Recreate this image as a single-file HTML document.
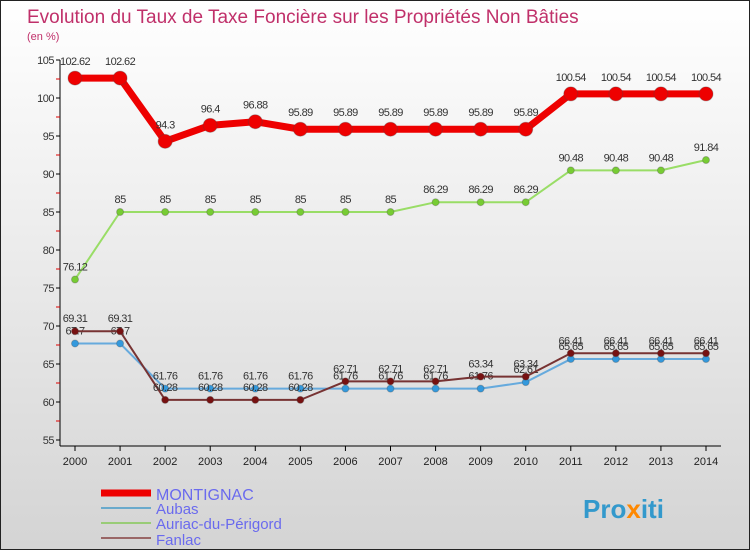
<!DOCTYPE html>
<html><head><meta charset="utf-8"><style>
html,body{margin:0;padding:0}
body{width:750px;height:550px;overflow:hidden;font-family:"Liberation Sans",sans-serif}
#wrap{position:relative;width:748px;height:548px;border:1px solid #222;background:linear-gradient(#ffffff,#d4d4d4)}
</style></head><body>
<div id="wrap">
<svg id="chart" width="748" height="548" xmlns="http://www.w3.org/2000/svg">
<text x="26" y="22" font-size="19" fill="#c0306a">Evolution du Taux de Taxe Foncière sur les Propriétés Non Bâties</text>
<text x="26" y="39" font-size="11" fill="#c0306a">(en %)</text>
<g id="axes"></g><g id="series"></g>
<g>
<line x1="100" y1="492" x2="150" y2="492" stroke="#ee0000" stroke-width="7"/>
<text x="155" y="499" font-size="16" fill="#6a6aee">MONTIGNAC</text>
<line x1="100" y1="507" x2="150" y2="507" stroke="#6aaacc" stroke-width="2"/>
<text x="155" y="513" font-size="15" fill="#6a6aee">Aubas</text>
<line x1="100" y1="522" x2="150" y2="522" stroke="#99cc77" stroke-width="2"/>
<text x="155" y="528" font-size="15" fill="#6a6aee">Auriac-du-Périgord</text>
<line x1="100" y1="537" x2="150" y2="537" stroke="#996666" stroke-width="2"/>
<text x="155" y="544" font-size="15" fill="#6a6aee">Fanlac</text>
</g>
<text x="582" y="517" font-size="26" font-weight="bold" fill="#3399cc">Pro<tspan fill="#ff8800">x</tspan>iti</text>
</svg>
</div>
<script>
const years=[2000,2001,2002,2003,2004,2005,2006,2007,2008,2009,2010,2011,2012,2013,2014];
const montignac=[102.62,102.62,94.3,96.4,96.88,95.89,95.89,95.89,95.89,95.89,95.89,100.54,100.54,100.54,100.54];
const aubas=[67.7,67.7,61.76,61.76,61.76,61.76,61.76,61.76,61.76,61.76,62.61,65.65,65.65,65.65,65.65];
const auriac=[76.12,85,85,85,85,85,85,85,86.29,86.29,86.29,90.48,90.48,90.48,91.84];
const fanlac=[69.31,69.31,60.28,60.28,60.28,60.28,62.71,62.71,62.71,63.34,63.34,66.41,66.41,66.41,66.41];
const yTicks=[55,60,65,70,75,80,85,90,95,100,105];
const NS="http://www.w3.org/2000/svg";
const X=i=>74+i*(705-74)/(years.length-1);
const Y=v=>439-(v-55)*(439-59)/50;
function mk(tag,attrs,parent){const e=document.createElementNS(NS,tag);for(const k in attrs)e.setAttribute(k,attrs[k]);parent.appendChild(e);return e;}
const ax=document.getElementById('axes');
let a=mk('line',{x1:59,y1:59,x2:59,y2:445,stroke:'#000'},ax);


a=mk('line',{x1:59,y1:445,x2:720,y2:445,stroke:'#000'},ax);


yTicks.forEach(v=>{
 mk('line',{x1:55,y1:Y(v),x2:59,y2:Y(v),stroke:'#000'},ax);
 if(v<105)mk('line',{x1:55,y1:Y(v+2.5),x2:59,y2:Y(v+2.5),stroke:'#d00'},ax);
 const t=mk('text',{x:53,y:Y(v)+4,'font-size':11,fill:'#333','text-anchor':'end','letter-spacing':'-0.5'},ax);
 t.textContent=v;
 
 
});
years.forEach((y,i)=>{
 mk('line',{x1:X(i),y1:445,x2:X(i),y2:450,stroke:'#000'},ax);
 const t=mk('text',{x:X(i),y:464,'font-size':11,fill:'#222','text-anchor':'middle'},ax);
 t.textContent=y;
 
 
});
const sg=document.getElementById('series');
function series(data,name,color,w,r,fill,dy){
 const g=mk('g',{},sg);
 
 
 const p=mk('polyline',{points:data.map((v,i)=>X(i)+','+Y(v)).join(' '),fill:'none',stroke:color,'stroke-width':w,'stroke-linejoin':'round'},g);
 
 
 data.forEach((v,i)=>{
  const c=mk('circle',{cx:X(i),cy:Y(v),r:r,fill:fill,stroke:'#444','stroke-opacity':0.3},g);
  
  
  const t=mk('text',{x:X(i),y:Y(v)+dy,'font-size':11,fill:'#333','text-anchor':'middle','letter-spacing':'-0.6'},g);
  t.textContent=String(v);
  
  
 });
}
series(auriac,'auriac','#99dd66',2,3.5,'#77cc33',-9);
series(aubas,'aubas','#66aadd',2,3.5,'#3399dd',-9);
series(fanlac,'fanlac','#773333',2,3.5,'#771111',-9);
series(montignac,'montignac','#ee0000',7,7,'#ee0000',-13);
</script>
</body></html>
